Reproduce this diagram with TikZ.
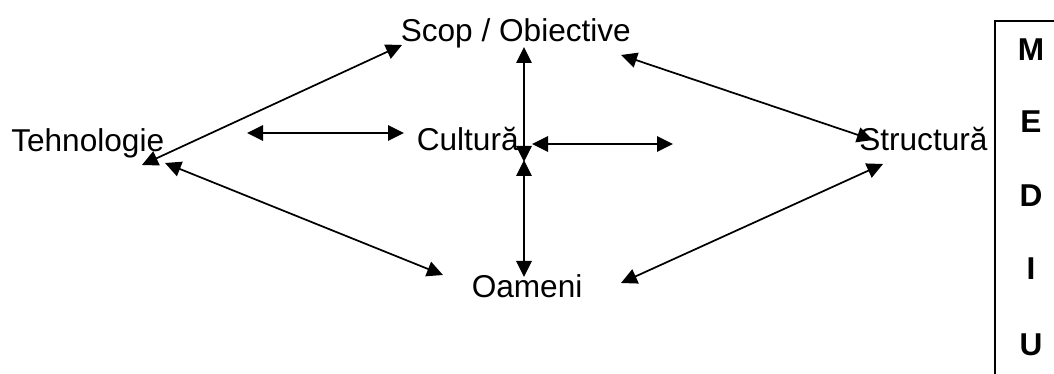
\documentclass[tikz,border=0pt]{standalone}
\usepackage{fontspec}
\setmainfont{Liberation Sans}
\usetikzlibrary{arrows.meta}
\begin{document}
\begin{tikzpicture}[x=0.75pt,y=-0.75pt,
  label/.style={inner sep=0pt,anchor=base west,font=\fontsize{23.7pt}{28pt}\selectfont},
  letter/.style={inner sep=0pt,anchor=base,font=\fontsize{23.7pt}{28pt}\selectfont\bfseries},
  link/.style={line width=1.3pt,{Triangle[length=12pt,width=11.5pt]}-{Triangle[length=12pt,width=11.5pt]}},
  frame/.style={line width=1.3pt}]
\useasboundingbox (0,0) rectangle (1054,374);

% labels of the elements
\node[label] (scop) at (400.5,42) {Scop / Obiective};
\node[label] (tehno) at (11,152) {Tehnologie};
\node[label] (cultura) at (416.5,150.5) {Cultură};
\node[label] (struct) at (859,150.5) {Structură};
\node[label] (oameni) at (471.5,297) {Oameni};

% environment frame with the vertical word
\coordinate (ftop) at (1054,21);
\coordinate (fcorner) at (995,21);
\coordinate (fbottom) at (995,374);
\draw[frame] (ftop) -- (fcorner) -- (fbottom);
\node[letter] (m1) at (1031,61) {M};
\node[letter] (m2) at (1031,133) {E};
\node[letter] (m3) at (1031,207) {D};
\node[letter] (m4) at (1031,280) {I};
\node[letter] (m5) at (1031,355) {U};

% arrow end points
\coordinate (tS) at (142,165);
\coordinate (sT) at (402,45);
\coordinate (tC) at (247,133);
\coordinate (cT) at (404,133);
\coordinate (cS1) at (524,162);
\coordinate (sC) at (524,47);
\coordinate (cO) at (524,160);
\coordinate (oC) at (524,277);
\coordinate (cR) at (532,144);
\coordinate (rC) at (673,144);
\coordinate (sR) at (621,55);
\coordinate (rS) at (873,140);
\coordinate (rO) at (883,164);
\coordinate (oR) at (621,283);
\coordinate (tO) at (165,163);
\coordinate (oT) at (443,275);

% connections
\draw[link] (tS) -- (sT);
\draw[link] (tC) -- (cT);
\draw[link] (cS1) -- (sC);
\draw[link] (cO) -- (oC);
\draw[link] (cR) -- (rC);
\draw[link] (sR) -- (rS);
\draw[link] (rO) -- (oR);
\draw[link] (tO) -- (oT);
\end{tikzpicture}
\end{document}
